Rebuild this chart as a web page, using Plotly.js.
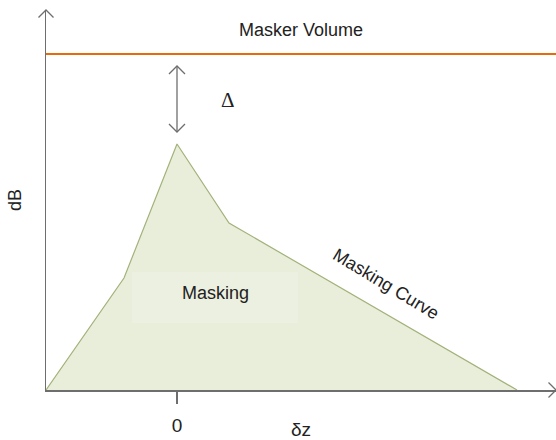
<!DOCTYPE html>
<html>
<head>
<meta charset="utf-8">
<script src="https://cdn.plot.ly/plotly-3.0.1.min.js"></script>
<style>html,body{margin:0;padding:0;background:#fff;}#chart{width:556px;height:440px;}</style>
</head>
<body>
<div id="chart"></div>
<script>
// Data (arbitrary units: dz along x, dB along y)
const curveDz = [-13.1, -5.3, 0, 5.2, 34.0];
const curveDb = [0, 11.2, 24.6, 16.7, 0];
const maskerVolumeDb = 33.6;
const xRange = [-13.1, 37.9];
const yRange = [0, 38];
const tickVals = [0];
const tickText = ['0'];
const labels = {
  masker: 'Masker Volume',
  delta: 'Δ',
  masking: 'Masking',
  curve: 'Masking Curve',
  xTitle: 'δz',
  yTitle: 'dB'
};

const FONT = 'Arial, "Liberation Sans", sans-serif';
const AX = '#6e6e6e';

const traces = [
  {
    x: curveDz, y: curveDb, type: 'scatter', mode: 'lines',
    fill: 'tozeroy', fillcolor: '#e9eedb',
    line: {color: '#a2b27a', width: 1.2},
    hoverinfo: 'skip', showlegend: false
  },
  {
    x: xRange, y: [maskerVolumeDb, maskerVolumeDb], type: 'scatter', mode: 'lines',
    line: {color: '#e46c0a', width: 2},
    hoverinfo: 'skip', showlegend: false, cliponaxis: false
  }
];

function chevron(xref, xval, yref, yval, path) {
  return {type: 'path', xref: xref, yref: yref, xsizemode: 'pixel', ysizemode: 'pixel',
          xanchor: xval, yanchor: yval, path: path, line: {color: AX, width: 1.3}};
}

const gapTop = 32.4, gapBottom = 25.8;

const shapes = [
  // lighter box behind "Masking"
  {type: 'rect', xref: 'x', yref: 'y', x0: -4.5, x1: 12.1, y0: 6.7, y1: 11.8,
   fillcolor: '#ecf0e0', line: {width: 0}, layer: 'above'},
  // y axis arrow head
  chevron('paper', 0, 'paper', 1, 'M -7.5 -7.5 L 0 0 L 7.5 -7.5'),
  // x axis arrow head
  chevron('paper', 1, 'paper', 0, 'M -7.5 7.5 L 0 0 L -7.5 -7.5'),
  // double arrow between peak and masker volume
  {type: 'line', xref: 'x', yref: 'y', x0: 0, x1: 0, y0: gapBottom, y1: gapTop,
   line: {color: AX, width: 1.3}},
  chevron('x', 0, 'y', gapTop, 'M -8 -8 L 0 0 L 8 -8'),
  chevron('x', 0, 'y', gapBottom, 'M -8 8 L 0 0 L 8 8')
];

const annotations = [
  {x: 0.5, xref: 'paper', y: 36.0, yref: 'y', text: labels.masker, showarrow: false,
   font: {family: FONT, size: 18, color: '#222'}},
  {x: 5.1, xref: 'x', y: 29.05, yref: 'y', text: labels.delta, showarrow: false,
   font: {family: '"Liberation Serif", "DejaVu Serif", serif', size: 21, color: '#222'}},
  {x: 3.8, xref: 'x', y: 9.7, yref: 'y', text: labels.masking, showarrow: false,
   font: {family: FONT, size: 18, color: '#222'}},
  {x: 20.9, xref: 'x', y: 10.6, yref: 'y', text: labels.curve, showarrow: false, textangle: 31,
   font: {family: FONT, size: 18, color: '#222'}}
];

const layout = {
  width: 556, height: 440,
  margin: {l: 46, r: 0, t: 10, b: 50, pad: 0},
  paper_bgcolor: '#fff', plot_bgcolor: '#fff',
  showlegend: false,
  font: {family: FONT, size: 18, color: '#222'},
  xaxis: {
    range: xRange, showgrid: false, zeroline: false,
    showline: true, linecolor: AX, linewidth: 1.5,
    tickmode: 'array', tickvals: tickVals, ticktext: tickText,
    ticks: 'outside', ticklen: 12, tickwidth: 2, tickcolor: AX,
    ticklabelstandoff: 6,
    tickfont: {family: FONT, size: 19, color: '#222'},
    title: {text: labels.xTitle, font: {family: FONT, size: 19, color: '#222'}, standoff: 3},
    fixedrange: true
  },
  yaxis: {
    range: yRange, showgrid: false, zeroline: false,
    showline: true, linecolor: AX, linewidth: 1.5,
    showticklabels: false, ticks: '',
    title: {text: labels.yTitle, font: {family: FONT, size: 18, color: '#222'}, standoff: 18},
    fixedrange: true
  },
  shapes: shapes,
  annotations: annotations
};

Plotly.newPlot('chart', traces, layout, {staticPlot: true, displayModeBar: false});
</script>
</body>
</html>
